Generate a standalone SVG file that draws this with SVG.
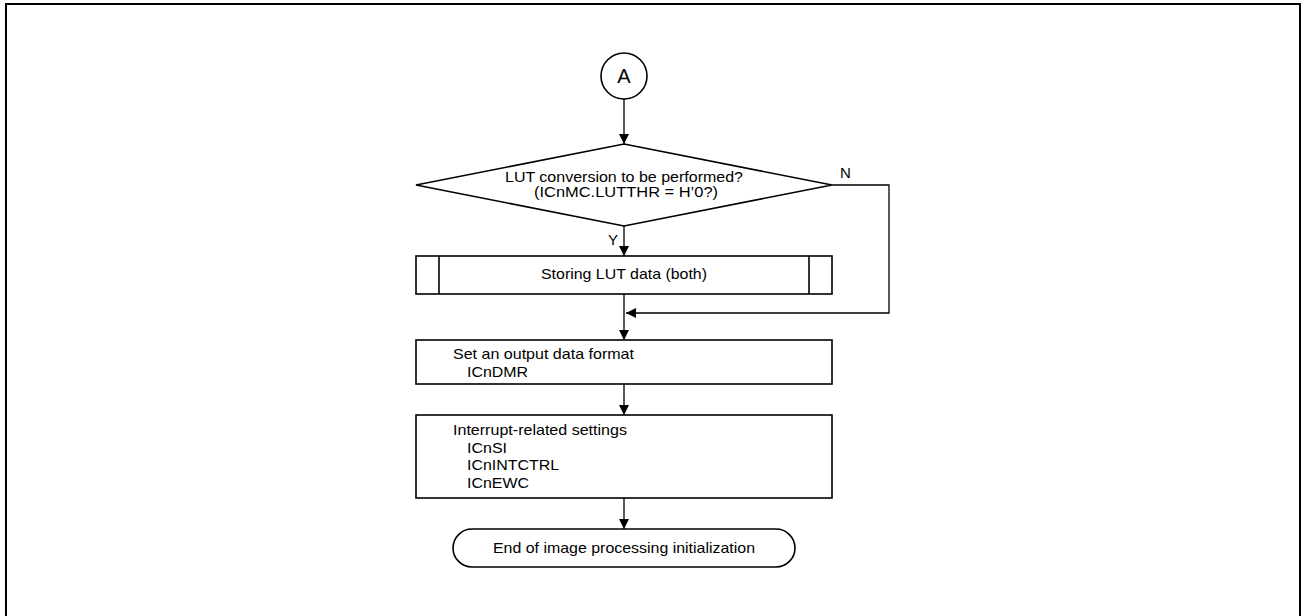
<svg xmlns="http://www.w3.org/2000/svg" width="1301" height="616" viewBox="0 0 1301 616">
<style>
.shape{fill:#fff;stroke:#000;stroke-width:1.6}
.conn{fill:none;stroke:#000;stroke-width:1.3}
text{font-family:"Liberation Sans",Arial,sans-serif;font-size:15px;fill:#000}
.c{text-anchor:middle}
</style>
<defs>
<marker id="arr" viewBox="0 0 10 10" refX="10" refY="5" markerWidth="10" markerHeight="10" markerUnits="userSpaceOnUse" orient="auto">
<path d="M0,0 L10,5 L0,10 Z" fill="#000"/>
</marker>
</defs>
<rect x="6" y="4" width="1294" height="640" fill="#fff" stroke="#000" stroke-width="2"/>
<g id="connectors">
<line class="conn" x1="624" y1="99" x2="624" y2="144" marker-end="url(#arr)"/>
<line class="conn" x1="624" y1="226" x2="624" y2="256" marker-end="url(#arr)"/>
<polyline class="conn" points="832,185 889,185 889,313 626,313" marker-end="url(#arr)"/>
<line class="conn" x1="624" y1="294" x2="624" y2="340" marker-end="url(#arr)"/>
<line class="conn" x1="624" y1="384" x2="624" y2="415" marker-end="url(#arr)"/>
<line class="conn" x1="624" y1="498" x2="624" y2="529" marker-end="url(#arr)"/>
<text x="608" y="245">Y</text>
<text x="840" y="178">N</text>
</g>
<g id="connectorA">
<circle class="shape" cx="624" cy="76" r="23"/>
<text class="c" x="624" y="83" style="font-size:20px">A</text>
</g>
<g id="decision">
<polygon class="shape" points="624,144 832,185 624,226 416,185"/>
<text class="c" x="624" y="182" textLength="238" lengthAdjust="spacingAndGlyphs">LUT conversion to be performed?</text>
<text class="c" x="626" y="197" textLength="184" lengthAdjust="spacingAndGlyphs">(ICnMC.LUTTHR = H’0?)</text>
</g>
<g id="storing">
<rect class="shape" x="416" y="256" width="416" height="38"/>
<line class="shape" x1="439" y1="256" x2="439" y2="294"/>
<line class="shape" x1="809" y1="256" x2="809" y2="294"/>
<text class="c" x="624" y="279" textLength="166" lengthAdjust="spacingAndGlyphs">Storing LUT data (both)</text>
</g>
<g id="setformat">
<rect class="shape" x="416" y="340" width="416" height="44"/>
<text x="453" y="359" textLength="181" lengthAdjust="spacingAndGlyphs">Set an output data format</text>
<text x="467" y="376.5" textLength="61" lengthAdjust="spacingAndGlyphs">ICnDMR</text>
</g>
<g id="interrupt">
<rect class="shape" x="416" y="415" width="416" height="83"/>
<text x="453" y="435" textLength="174" lengthAdjust="spacingAndGlyphs">Interrupt-related settings</text>
<text x="467" y="452.5" textLength="40" lengthAdjust="spacingAndGlyphs">ICnSI</text>
<text x="467" y="470" textLength="92" lengthAdjust="spacingAndGlyphs">ICnINTCTRL</text>
<text x="467" y="487.5" textLength="62" lengthAdjust="spacingAndGlyphs">ICnEWC</text>
</g>
<g id="end">
<rect class="shape" x="453" y="529" width="342" height="38" rx="19" ry="19"/>
<text class="c" x="624" y="553" textLength="262" lengthAdjust="spacingAndGlyphs">End of image processing initialization</text>
</g>
</svg>
